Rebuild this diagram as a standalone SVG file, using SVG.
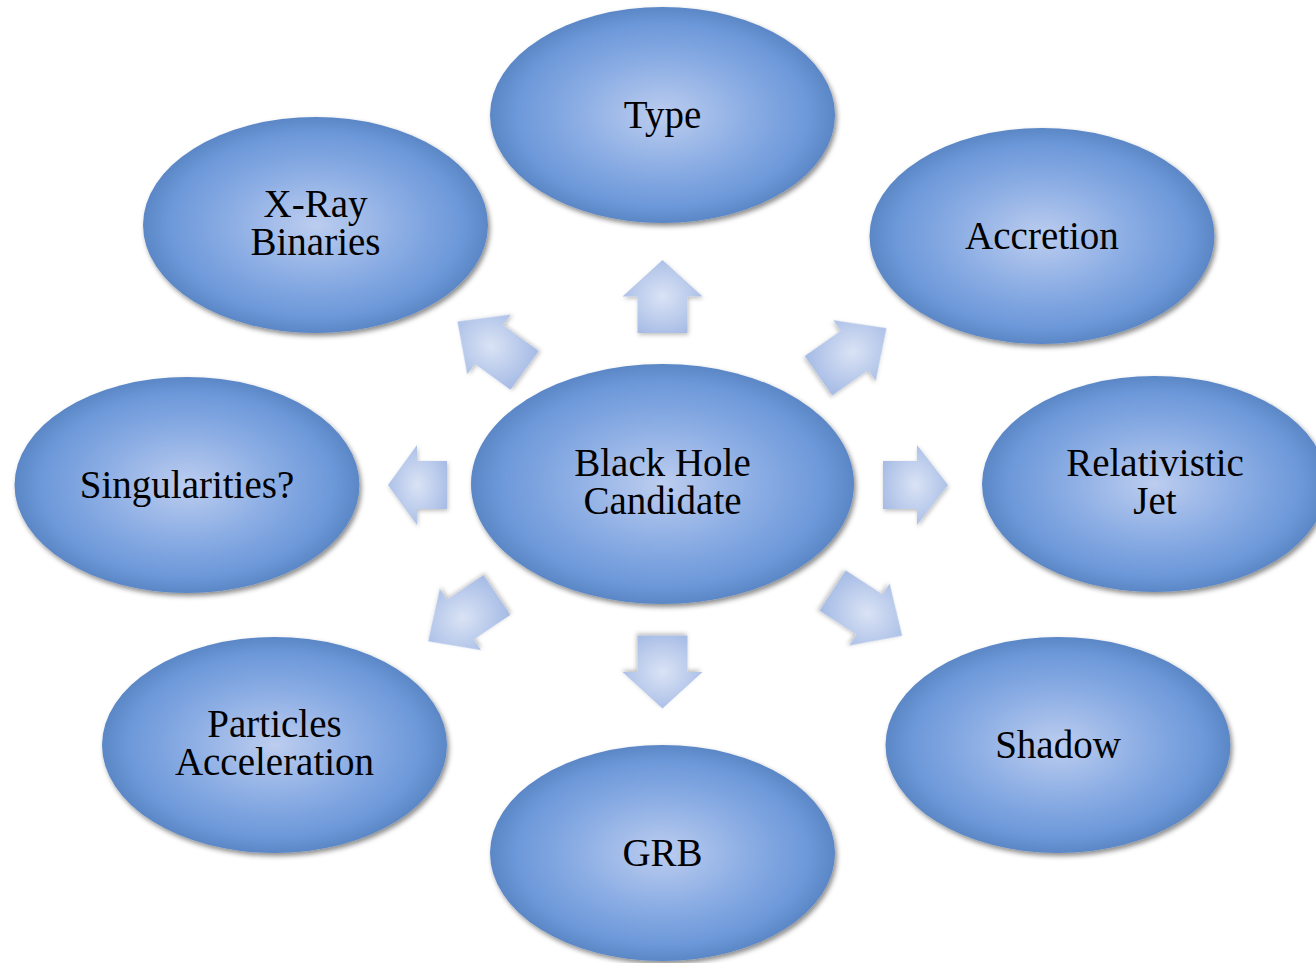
<svg xmlns="http://www.w3.org/2000/svg" xmlns:xlink="http://www.w3.org/1999/xlink" width="1316" height="963" viewBox="0 0 1316 963">
<style>
.node{fill:url(#ng);filter:url(#sh);}
.arr{fill:url(#ag);filter:url(#ash);}
.lbl{font-family:"Liberation Serif","Times New Roman",serif;font-size:39px;fill:#000;text-anchor:middle;}
</style>
<defs>
<radialGradient id="ng" cx="50%" cy="50%" r="50%">
<stop offset="0" stop-color="#bccdef"/>
<stop offset="0.5" stop-color="#8badE4"/>
<stop offset="0.85" stop-color="#6c98d9"/>
<stop offset="1" stop-color="#5b87c6"/>
</radialGradient>
<radialGradient id="ag" cx="50%" cy="50%" r="55%">
<stop offset="0" stop-color="#dae3f5"/>
<stop offset="1" stop-color="#a8bde6"/>
</radialGradient>
<filter id="sh" x="-10%" y="-10%" width="125%" height="125%">
<feDropShadow dx="2" dy="3" stdDeviation="2.5" flood-color="#000" flood-opacity="0.45"/>
</filter>
<filter id="ash" x="-20%" y="-20%" width="150%" height="150%">
<feDropShadow dx="1" dy="2" stdDeviation="2" flood-color="#000" flood-opacity="0.25"/>
</filter>
<path id="au" d="M0,-36.5 L40,0 L25,0 L25,36.5 L-25,36.5 L-25,0 L-40,0 Z"/>
<path id="ad" d="M0,-39 L37,0 L24,0 L24,44 L-24,44 L-24,0 L-37,0 Z"/>
</defs>
<rect width="1316" height="963" fill="#fff"/>
<g id="connectors">
<use xlink:href="#au" href="#au" class="arr" transform="translate(662.5,296.5)"/>
<use xlink:href="#au" href="#au" class="arr" transform="translate(662.5,672) rotate(180)"/>
<path class="arr" d="M388,485 L417,445 L417,461 L447,461 L447,509 L417,509 L417,525 Z"/>
<path class="arr" d="M948,485 L917,445 L917,461 L883,461 L883,509 L917,509 L917,525 Z"/>
<use xlink:href="#ad" href="#ad" class="arr" transform="translate(854.5,350.5) rotate(55)"/>
<use xlink:href="#ad" href="#ad" class="arr" transform="translate(489,344.5) rotate(-54)"/>
<use xlink:href="#ad" href="#ad" class="arr" transform="translate(460.5,619.5) rotate(-124)"/>
<use xlink:href="#ad" href="#ad" class="arr" transform="translate(869.5,614.5) rotate(123)"/>
</g>
<g id="center">
<ellipse class="node" cx="662.5" cy="484" rx="191.5" ry="120"/>
<text class="lbl" x="662.5" y="476">Black Hole<tspan x="662.5" dy="38">Candidate</tspan></text>
</g>
<g id="type">
<ellipse class="node" cx="662.5" cy="115" rx="172.5" ry="108"/>
<text class="lbl" x="662.5" y="128">Type</text>
</g>
<g id="xray">
<ellipse class="node" cx="315.5" cy="225" rx="172.5" ry="108"/>
<text class="lbl" x="315.5" y="217">X-Ray<tspan x="315.5" dy="38">Binaries</tspan></text>
</g>
<g id="accretion">
<ellipse class="node" cx="1042" cy="236" rx="172.5" ry="108"/>
<text class="lbl" x="1042" y="249">Accretion</text>
</g>
<g id="jet">
<ellipse class="node" cx="1154.5" cy="484" rx="172.5" ry="108"/>
<text class="lbl" x="1155" y="476">Relativistic<tspan x="1155" dy="38">Jet</tspan></text>
</g>
<g id="singularities">
<ellipse class="node" cx="187" cy="485" rx="172.5" ry="108"/>
<text class="lbl" x="187" y="498">Singularities?</text>
</g>
<g id="particles">
<ellipse class="node" cx="274.5" cy="745" rx="172.5" ry="108"/>
<text class="lbl" x="274.5" y="737">Particles<tspan x="274.5" dy="38">Acceleration</tspan></text>
</g>
<g id="grb">
<ellipse class="node" cx="662.5" cy="853" rx="172.5" ry="108"/>
<text class="lbl" x="662.5" y="866">GRB</text>
</g>
<g id="shadow">
<ellipse class="node" cx="1058" cy="745" rx="172.5" ry="108"/>
<text class="lbl" x="1058" y="758">Shadow</text>
</g>
</svg>
